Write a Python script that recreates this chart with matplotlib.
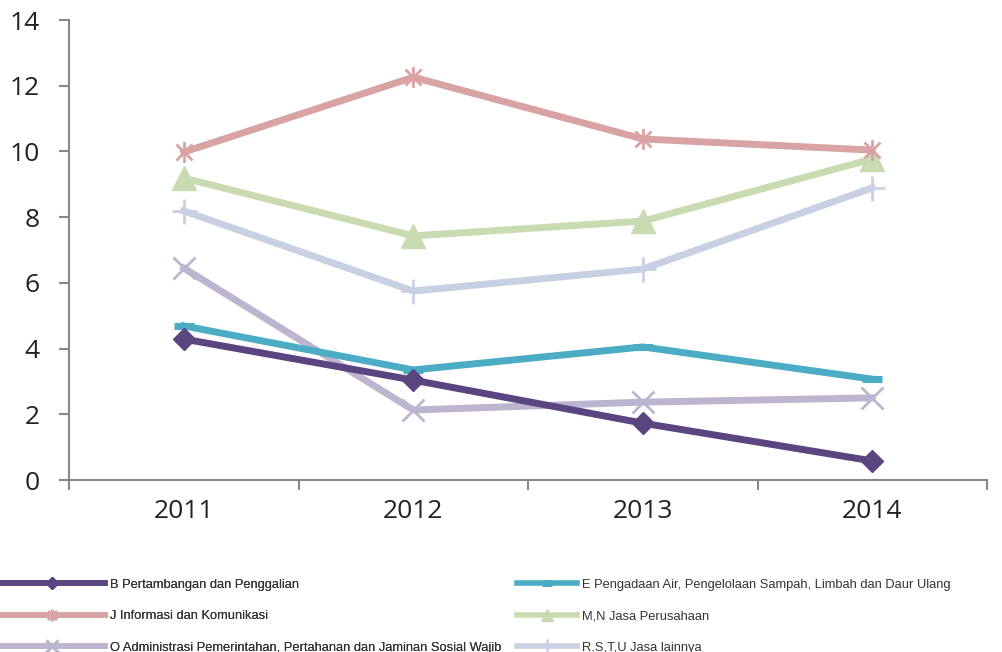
import matplotlib.pyplot as plt
from matplotlib.path import Path
import numpy

years = ['2011', '2012', '2013', '2014']

b_tambang = [4.29, 3.04, 1.73, 0.58]
e_air = [4.69, 3.35, 4.05, 3.07]
j_info = [9.98, 12.26, 10.38, 10.04]
mn_jasa = [9.19, 7.43, 7.88, 9.77]
o_admin = [6.45, 2.13, 2.37, 2.50]
rstu_lain = [8.19, 5.75, 6.42, 8.89]

labels = ['B Pertambangan dan Penggalian',
          'E Pengadaan Air, Pengelolaan Sampah, Limbah dan Daur Ulang',
          'J Informasi dan Komunikasi',
          'M,N Jasa Perusahaan',
          'O Administrasi Pemerintahan, Pertahanan dan Jaminan Sosial Wajib',
          'R,S,T,U Jasa lainnya']

# asterisk marker: X with a vertical bar
star = Path([(-1, -1), (1, 1), (-1, 1), (1, -1), (0, -1.3), (0, 1.3)],
            [Path.MOVETO, Path.LINETO, Path.MOVETO, Path.LINETO, Path.MOVETO, Path.LINETO])

fig = plt.figure(figsize=(10.02, 6.52), dpi=100)
ax = fig.add_axes([0.069, 0.2638, 0.916, 0.7055])

x = numpy.arange(len(years))
lw = 5
ax.plot(x, b_tambang, color='#5b4580', lw=lw, marker='D', ms=11, label=labels[0], zorder=6)
ax.plot(x, e_air, color='#4bacc6', lw=lw, marker='_', ms=14, mew=lw, label=labels[1], zorder=5)
ax.plot(x, j_info, color='#d9a3a3', lw=lw, marker=star, ms=15, mew=2, mfc='none', label=labels[2], zorder=4)
ax.plot(x, mn_jasa, color='#c9dbb0', lw=lw, marker='^', ms=17, label=labels[3], zorder=3)
ax.plot(x, o_admin, color='#bdb5cf', lw=lw, marker='x', ms=16, mew=2, label=labels[4], zorder=3)
ax.plot(x, rstu_lain, color='#c8d0e4', lw=lw, marker='+', ms=18, mew=2, label=labels[5], zorder=2)

ax.set_xlim(-0.5, 3.5)
ax.set_ylim(0, 14)
ax.set_yticks(range(0, 15, 2))
ax.set_xticks(numpy.arange(-0.5, 3.6, 1))
ax.set_xticklabels([])
ax.set_xticks(x, minor=True)
ax.set_xticklabels(years, minor=True)
ax.tick_params(axis='x', which='minor', length=0, pad=14, labelsize=19, colors='#222222')
ax.tick_params(axis='x', which='major', length=7, width=1.5, color='#888888', direction='out')
ax.tick_params(axis='y', length=7, width=1.5, color='#888888', pad=14, labelsize=19, labelcolor='#222222')
for s in ['top', 'right']:
    ax.spines[s].set_visible(False)
for s in ['left', 'bottom']:
    ax.spines[s].set_color('#888888')
    ax.spines[s].set_linewidth(1.5)
for t in ax.get_xticklabels(minor=True) + ax.get_yticklabels():
    t.set_fontfamily(['Open Sans', 'DejaVu Sans'])

h, l = ax.get_legend_handles_labels()
fs = 9.3
common = dict(loc='upper left', frameon=False, borderpad=0, borderaxespad=0,
              prop={'family': ['Liberation Sans Narrow', 'Liberation Sans'], 'size': fs},
              handletextpad=0.4, labelspacing=1.5, markerscale=0.55, labelcolor='#333333')
leg1 = fig.legend([h[0], h[2], h[4]], [l[0], l[2], l[4]],
                  bbox_to_anchor=(0.0, 0.112), handlelength=8.1, **common)
fig.add_artist(leg1)
leg2 = fig.legend([h[1], h[3], h[5]], [l[1], l[3], l[5]],
                  bbox_to_anchor=(0.516, 0.112), handlelength=4.65, **common)
for leg in (leg1, leg2):
    for line in leg.get_lines():
        line.set_linewidth(4)

fig.savefig('out.png', dpi=100)
